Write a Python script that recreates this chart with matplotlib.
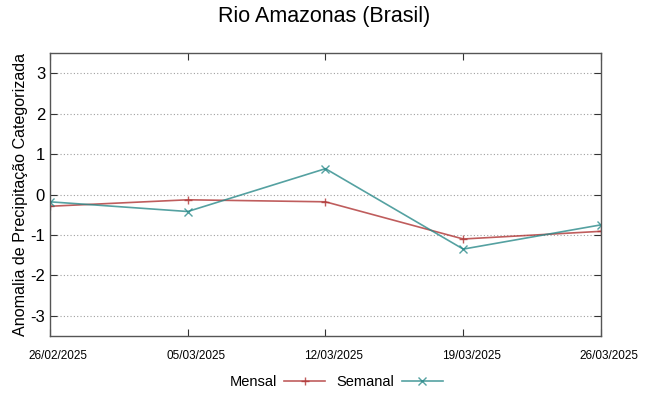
import matplotlib
matplotlib.use('Agg')
import matplotlib.pyplot as plt
import matplotlib.dates as mdates
import matplotlib.transforms as mtransforms
import pandas as pd

plt.rcParams['font.family'] = ['Liberation Sans', 'DejaVu Sans']

dates = pd.to_datetime(['2025-02-26', '2025-03-05', '2025-03-12', '2025-03-19', '2025-03-26'])
mensal = [-0.29, -0.13, -0.18, -1.10, -0.91]
semanal = [-0.18, -0.42, 0.64, -1.35, -0.75]
yticks = [-3, -2, -1, 0, 1, 2, 3]

fig = plt.figure(figsize=(6.49, 3.96), dpi=100)
ax = fig.add_axes([0.077, 0.1515, 0.849, 0.7145])

ax.plot(dates, mensal, color='#b03535', alpha=0.8, lw=1.2, marker='+', ms=6, mew=1.0, label='Mensal')
ax.plot(dates, semanal, color='#2a8a8a', alpha=0.8, lw=1.2, marker='x', ms=5.5, mew=1.0, label='Semanal')

ax.set_ylim(-3.5, 3.5)
ax.set_xlim(dates[0], dates[-1])
ax.set_yticks(yticks)
ax.set_yticklabels([str(v) for v in yticks], fontsize=12)
ax.set_xticks(dates)
ax.set_xticklabels([])

# gnuplot-style date labels sit a bit right of their ticks
shift = mtransforms.ScaledTranslation(8 / 100, -14 / 100, fig.dpi_scale_trans)
trans = ax.get_xaxis_transform() + shift
for d in dates:
    ax.text(mdates.date2num(d), 0, d.strftime('%d/%m/%Y'), transform=trans,
            ha='center', va='top', fontsize=8.5)

ax.grid(axis='y', color='#a0a0a0', linestyle=(0, (1, 2)), lw=0.8)
ax.tick_params(direction='in', top=True, right=True, length=5, color='#333333')
for s in ax.spines.values():
    s.set_color('#555555')
    s.set_linewidth(1.0)

ax.set_ylabel('Anomalia de Precipitação Categorizada', fontsize=11.6, labelpad=1.5)
fig.suptitle('Rio Amazonas (Brasil)', fontsize=15.5, y=0.985)

fig.legend(loc='lower center', bbox_to_anchor=(0.518, -0.016), ncol=2, frameon=False,
           markerfirst=False, handlelength=2.8, handletextpad=0.5, columnspacing=0.8, fontsize=10.5)

fig.savefig('out.png', dpi=100)
